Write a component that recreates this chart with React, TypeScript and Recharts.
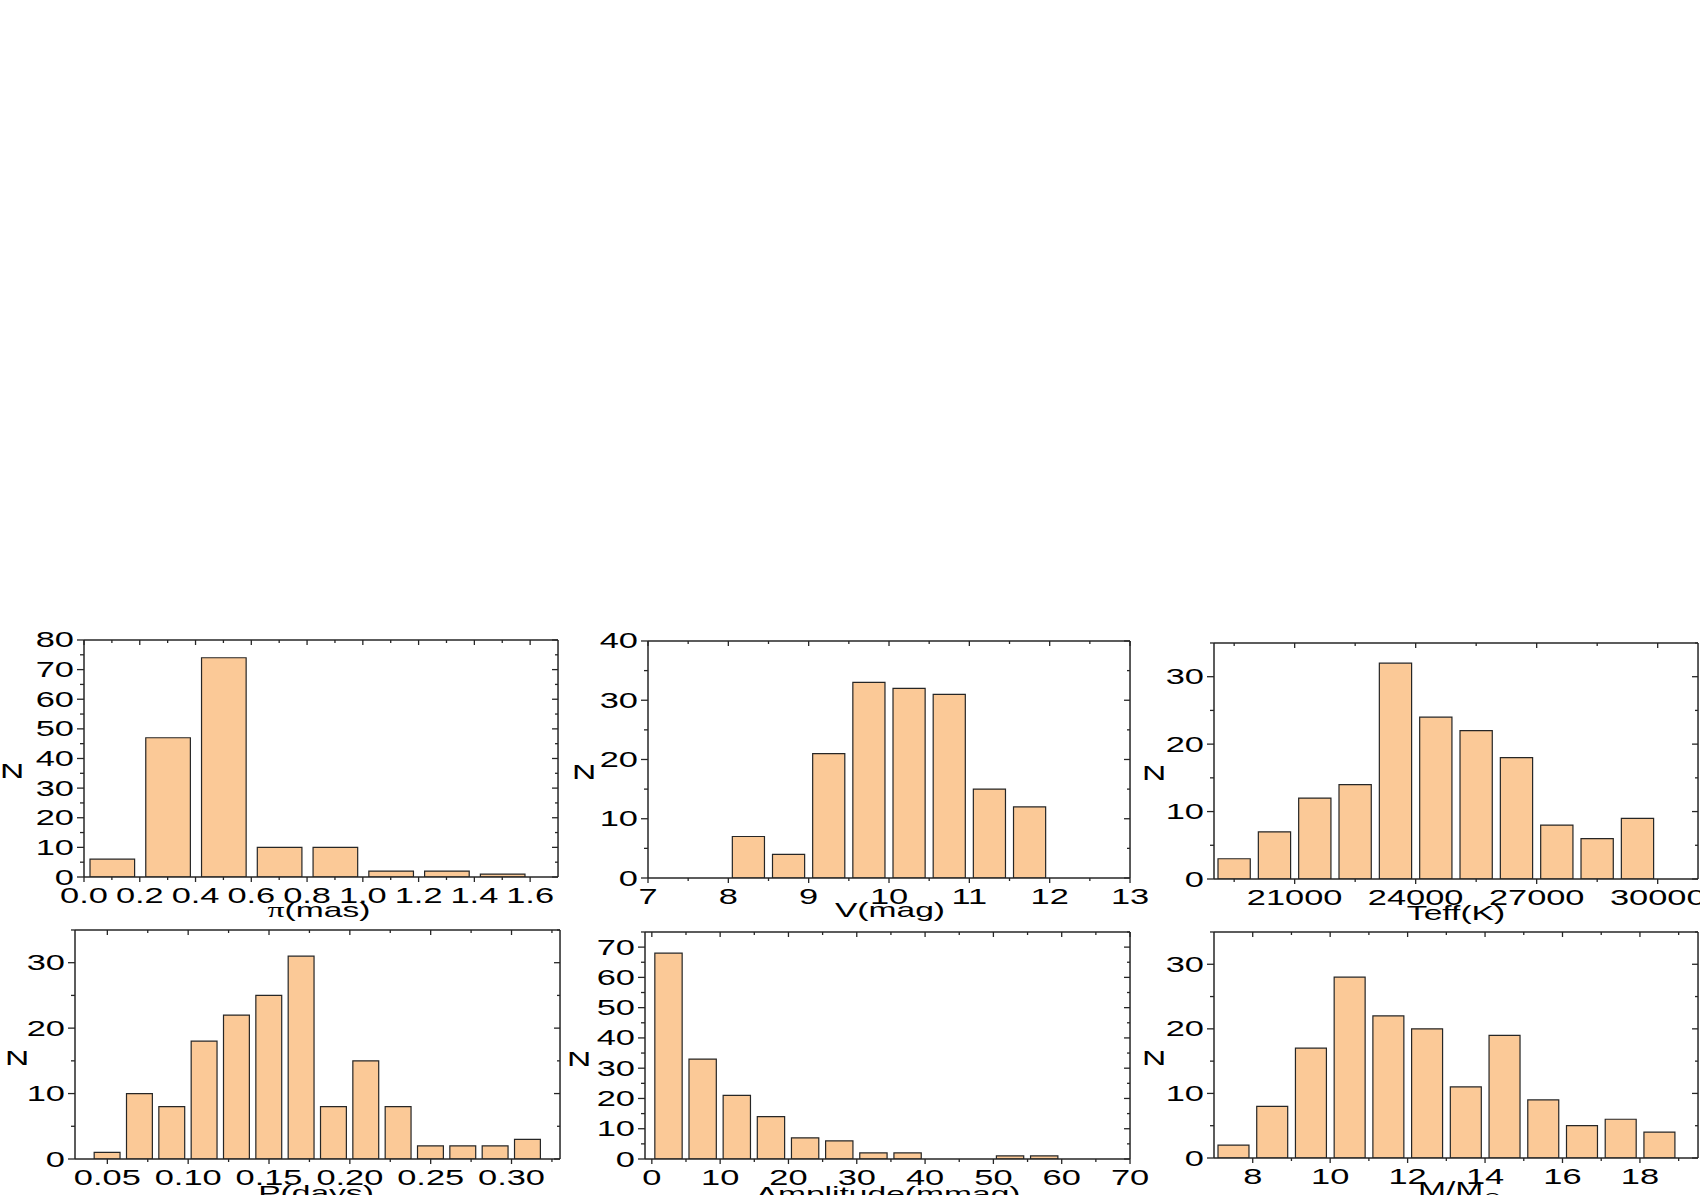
import React from 'react';
import { BarChart, Bar, XAxis, YAxis } from 'recharts';

const FONT = '"Liberation Sans", Arial, Helvetica, sans-serif';
const STRETCH = 1.6;
const FS = 21.5;
const INK = '#262626';
const FILL = '#FBC997';
const AX = 0.01; // near-zero axis thickness so axes do not eat plot space

// (1) parallax
const piBins = [0.1, 0.3, 0.5, 0.7, 0.9, 1.1, 1.3, 1.5];
const piCounts = [6, 47, 74, 10, 10, 2, 2, 1];
const piTicks = [0, 0.2, 0.4, 0.6, 0.8, 1.0, 1.2, 1.4, 1.6];
const piTickLabels = ['0.0', '0.2', '0.4', '0.6', '0.8', '1.0', '1.2', '1.4', '1.6'];
const piMinor = [0.1, 0.3, 0.5, 0.7, 0.9, 1.1, 1.3, 1.5];
const piYTicks = [0, 10, 20, 30, 40, 50, 60, 70, 80];
const piYMinor = [5, 15, 25, 35, 45, 55, 65, 75];

// (2) V magnitude
const vBins = [8.25, 8.75, 9.25, 9.75, 10.25, 10.75, 11.25, 11.75];
const vCounts = [7, 4, 21, 33, 32, 31, 15, 12];
const vTicks = [7, 8, 9, 10, 11, 12, 13];
const vTickLabels = ['7', '8', '9', '10', '11', '12', '13'];
const vMinor = [7.5, 8.5, 9.5, 10.5, 11.5, 12.5];
const vYTicks = [0, 10, 20, 30, 40];
const vYMinor = [5, 15, 25, 35];

// (3) Teff
const teffBins = [19500, 20500, 21500, 22500, 23500, 24500, 25500, 26500, 27500, 28500, 29500];
const teffCounts = [3, 7, 12, 14, 32, 24, 22, 18, 8, 6, 9];
const teffTicks = [21000, 24000, 27000, 30000];
const teffTickLabels = ['21000', '24000', '27000', '30000'];
const teffMinor = [19500, 22500, 25500, 28500];
const teffYTicks = [0, 10, 20, 30];
const teffYMinor = [5, 15, 25, 35];

// (4) period
const pBins = [0.05, 0.07, 0.09, 0.11, 0.13, 0.15, 0.17, 0.19, 0.21, 0.23, 0.25, 0.27, 0.29, 0.31];
const pCounts = [1, 10, 8, 18, 22, 25, 31, 8, 15, 8, 2, 2, 2, 3];
const pTicks = [0.05, 0.1, 0.15, 0.2, 0.25, 0.3];
const pTickLabels = ['0.05', '0.10', '0.15', '0.20', '0.25', '0.30'];
const pMinor = [0.075, 0.125, 0.175, 0.225, 0.275, 0.325];
const pYTicks = [0, 10, 20, 30];
const pYMinor = [5, 15, 25, 35];

// (5) amplitude
const ampBins = [2.5, 7.5, 12.5, 17.5, 22.5, 27.5, 32.5, 37.5, 42.5, 47.5, 52.5, 57.5];
const ampCounts = [68, 33, 21, 14, 7, 6, 2, 2, 0, 0, 1, 1];
const ampTicks = [0, 10, 20, 30, 40, 50, 60, 70];
const ampTickLabels = ['0', '10', '20', '30', '40', '50', '60', '70'];
const ampMinor = [5, 15, 25, 35, 45, 55, 65];
const ampYTicks = [0, 10, 20, 30, 40, 50, 60, 70];
const ampYMinor = [5, 15, 25, 35, 45, 55, 65, 75];

// (6) mass
const massBins = [7.5, 8.5, 9.5, 10.5, 11.5, 12.5, 13.5, 14.5, 15.5, 16.5, 17.5, 18.5];
const massCounts = [2, 8, 17, 28, 22, 20, 11, 19, 9, 5, 6, 4];
const massTicks = [8, 10, 12, 14, 16, 18];
const massTickLabels = ['8', '10', '12', '14', '16', '18'];
const massMinor = [9, 11, 13, 15, 17, 19];
const massYTicks = [0, 10, 20, 30];
const massYMinor = [5, 15, 25, 35];

type PanelProps = {
  left: number; top: number; width: number; height: number;
  bins: number[]; counts: number[]; binWidth: number;
  xDomain: [number, number]; xTicks: number[]; xLabels: string[]; xMinor: number[];
  yDomain: [number, number]; yTicks: number[]; yMinor: number[];
};

const Empty = () => <g />;

function Panel(p: PanelProps) {
  const data = p.bins.map((b, i) => ({ x: b, n: p.counts[i] }));
  const barSize = (p.width / (p.xDomain[1] - p.xDomain[0])) * p.binWidth * 0.8;
  const axisY = p.top + p.height;
  const lineStyle = { stroke: INK, strokeWidth: 1.5 };
  const tickStyle = { stroke: INK, strokeWidth: 1.3 };

  const xTick = (props: any) => {
    const v = props.payload.value;
    const i = p.xTicks.indexOf(v);
    const label = i >= 0 ? p.xLabels[i] : String(v);
    return (
      <g transform={`translate(${props.x},${axisY + 25.5}) scale(${STRETCH},1)`}>
        <text x={0} y={0} textAnchor="middle" fontFamily={FONT} fontSize={FS} fill="#000">{label}</text>
      </g>
    );
  };
  const yTick = (props: any) => (
    <g transform={`translate(${p.left - 10},${props.y + 7.5}) scale(${STRETCH},1)`}>
      <text x={0} y={0} textAnchor="end" fontFamily={FONT} fontSize={FS} fill="#000">{String(props.payload.value)}</text>
    </g>
  );

  const common = { dataKey: 'x', type: 'number' as const, domain: p.xDomain, allowDataOverflow: true, interval: 0 as const, height: AX };
  const commonY = { type: 'number' as const, domain: p.yDomain, allowDataOverflow: true, interval: 0 as const, width: AX };

  return (
    <div style={{ position: 'absolute', left: 0, top: 0 }}>
      <BarChart
        width={1700}
        height={1195}
        data={data}
        margin={{
          left: p.left - 2 * AX,
          top: p.top - 2 * AX,
          right: 1700 - p.left - p.width - 2 * AX,
          bottom: 1195 - p.top - p.height - 2 * AX,
        }}
      >
        <XAxis xAxisId="b" {...common} ticks={p.xTicks} tickSize={5} tick={xTick} axisLine={lineStyle} tickLine={tickStyle} />
        <XAxis xAxisId="bm" {...common} ticks={p.xMinor} tickSize={3} tick={Empty} axisLine={false} tickLine={tickStyle} />
        <XAxis xAxisId="t" {...common} orientation="top" mirror ticks={p.xTicks} tickSize={5} tick={Empty} axisLine={lineStyle} tickLine={tickStyle} />
        <XAxis xAxisId="tm" {...common} orientation="top" mirror ticks={p.xMinor} tickSize={3} tick={Empty} axisLine={false} tickLine={tickStyle} />
        <YAxis yAxisId="l" {...commonY} ticks={p.yTicks} tickSize={7} tick={yTick} axisLine={lineStyle} tickLine={tickStyle} />
        <YAxis yAxisId="lm" {...commonY} ticks={p.yMinor} tickSize={4} tick={Empty} axisLine={false} tickLine={tickStyle} />
        <YAxis yAxisId="r" {...commonY} orientation="right" mirror ticks={p.yTicks} tickSize={6} tick={Empty} axisLine={lineStyle} tickLine={tickStyle} />
        <YAxis yAxisId="rm" {...commonY} orientation="right" mirror ticks={p.yMinor} tickSize={3} tick={Empty} axisLine={false} tickLine={tickStyle} />
        <Bar
          xAxisId="b"
          yAxisId="l"
          dataKey="n"
          fill={FILL}
          stroke={INK}
          strokeWidth={1.2}
          barSize={barSize}
          isAnimationActive={false}
        />
      </BarChart>
    </div>
  );
}

type Label = { text: string; x: number; y: number };

const nLabels: Label[] = [
  { text: 'N', x: 12, y: 778 },
  { text: 'N', x: 584, y: 779 },
  { text: 'N', x: 1154, y: 780 },
  { text: 'N', x: 17, y: 1065 },
  { text: 'N', x: 579, y: 1066 },
  { text: 'N', x: 1154, y: 1065 },
];

function StretchText({ x, y, anchor = 'middle', size = FS, children }: any) {
  return (
    <g transform={`translate(${x},${y}) scale(${STRETCH},1)`}>
      <text x={0} y={0} textAnchor={anchor} fontFamily={FONT} fontSize={size} fill="#000">{children}</text>
    </g>
  );
}

export default function App() {
  return (
    <div style={{ position: 'absolute', left: 0, top: 0, width: 1700, height: 1195, overflow: 'hidden', background: '#fff' }}>
      <Panel left={84} top={640} width={474} height={237} bins={piBins} counts={piCounts} binWidth={0.2}
        xDomain={[0, 1.7]} xTicks={piTicks} xLabels={piTickLabels} xMinor={piMinor}
        yDomain={[0, 80]} yTicks={piYTicks} yMinor={piYMinor} />
      <Panel left={648} top={641} width={482} height={237} bins={vBins} counts={vCounts} binWidth={0.5}
        xDomain={[7, 13]} xTicks={vTicks} xLabels={vTickLabels} xMinor={vMinor}
        yDomain={[0, 40]} yTicks={vYTicks} yMinor={vYMinor} />
      <Panel left={1214} top={643} width={484} height={236} bins={teffBins} counts={teffCounts} binWidth={1000}
        xDomain={[19000, 31000]} xTicks={teffTicks} xLabels={teffTickLabels} xMinor={teffMinor}
        yDomain={[0, 35]} yTicks={teffYTicks} yMinor={teffYMinor} />
      <Panel left={75} top={930} width={485} height={229} bins={pBins} counts={pCounts} binWidth={0.02}
        xDomain={[0.03, 0.33]} xTicks={pTicks} xLabels={pTickLabels} xMinor={pMinor}
        yDomain={[0, 35]} yTicks={pYTicks} yMinor={pYMinor} />
      <Panel left={645} top={932} width={485} height={227} bins={ampBins} counts={ampCounts} binWidth={5}
        xDomain={[-1, 70]} xTicks={ampTicks} xLabels={ampTickLabels} xMinor={ampMinor}
        yDomain={[0, 75]} yTicks={ampYTicks} yMinor={ampYMinor} />
      <Panel left={1214} top={932} width={484} height={226} bins={massBins} counts={massCounts} binWidth={1}
        xDomain={[7, 19.5]} xTicks={massTicks} xLabels={massTickLabels} xMinor={massMinor}
        yDomain={[0, 35]} yTicks={massYTicks} yMinor={massYMinor} />
      <svg width={1700} height={1195} style={{ position: 'absolute', left: 0, top: 0, pointerEvents: 'none' }}>
        {nLabels.map((l, i) => (
          <StretchText key={i} x={l.x} y={l.y} size={21}>{l.text}</StretchText>
        ))}
        <StretchText x={319} y={917} size={21}>
          <tspan fontFamily='"Liberation Serif", "Times New Roman", serif'>π</tspan>(mas)
        </StretchText>
        <StretchText x={890} y={917} size={21}>V(mag)</StretchText>
        <StretchText x={1456} y={920} size={21}>Teff(K)</StretchText>
        <StretchText x={316} y={1200} size={21}>P(days)</StretchText>
        <StretchText x={888} y={1201} size={21}>Amplitude(mmag)</StretchText>
        <StretchText x={1418} y={1196} size={21} anchor="start">
          M/M<tspan dy={6} fontSize={14}>⊙</tspan>
        </StretchText>
      </svg>
    </div>
  );
}
